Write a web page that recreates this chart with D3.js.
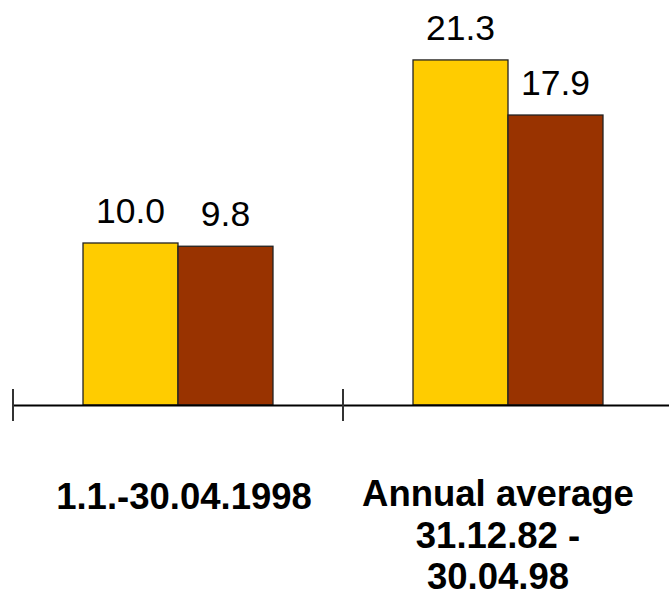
<!DOCTYPE html>
<html lang="en">
<head>
<meta charset="UTF-8">
<title>bars</title>
<script src="https://d3js.org/d3.v7.min.js"></script>
<style>
  body { margin: 0; background: #fff; }
  text { font-family: Arial, "Liberation Sans", sans-serif; }
</style>
</head>
<body>
<script>
// data
var categories = ["1.1.-30.04.1998", "Annual average"];
var categoryLines = [["1.1.-30.04.1998"], ["Annual average", "31.12.82 -", "30.04.98"]];
var seriesNames = ["A", "B"];
var seriesA = [10.0, 21.3];
var seriesB = [9.8, 17.9];
var colors = ["#FFCC00", "#993300"];

var width = 669, height = 597;
var baseY = 405;

var svg = d3.select("body").append("svg")
    .attr("width", width)
    .attr("height", height);

var x0 = d3.scaleBand().domain(categories).range([13, 673]).paddingInner(0).paddingOuter(0);
var x1 = d3.scaleBand().domain(seriesNames).range([0, x0.bandwidth()]).paddingInner(0).paddingOuter(0.737);
var y = d3.scaleLinear().domain([0, 25]).range([baseY, 0]);

var rows = [];
categories.forEach(function(c, i) {
  rows.push({cat: c, s: "A", v: seriesA[i], col: colors[0]});
  rows.push({cat: c, s: "B", v: seriesB[i], col: colors[1]});
});

svg.selectAll("rect.bar")
  .data(rows)
  .enter().append("rect")
    .attr("class", "bar")
    .attr("x", d => x0(d.cat) + x1(d.s))
    .attr("y", d => y(d.v))
    .attr("width", x1.bandwidth())
    .attr("height", d => baseY - y(d.v))
    .attr("fill", d => d.col)
    .attr("stroke", "#222")
    .attr("stroke-width", 1.3);

svg.selectAll("text.val")
  .data(rows)
  .enter().append("text")
    .attr("class", "val")
    .attr("x", d => x0(d.cat) + x1(d.s) + x1.bandwidth() / 2)
    .attr("y", d => y(d.v) - 20)
    .attr("text-anchor", "middle")
    .attr("font-size", 35.5)
    .attr("fill", "#000")
    .text(d => d.v.toFixed(1));

// axis line + ticks
var axis = d3.axisBottom(x0).tickSize(0).tickFormat("");
svg.append("g").attr("transform", "translate(0," + baseY + ")").call(axis)
  .call(g => g.select(".domain").attr("stroke", "#000").attr("stroke-width", 2));

var tickXs = [13].concat(categories.map(c => x0(c) + x0.bandwidth()));
svg.selectAll("line.tk")
  .data(tickXs)
  .enter().append("line")
    .attr("x1", d => d).attr("x2", d => d)
    .attr("y1", baseY - 16).attr("y2", baseY + 16)
    .attr("stroke", "#333").attr("stroke-width", 2);

// category labels
var labelShift = [6, -10];
var labelTop = [509, 506];
categoryLines.forEach(function(lines, i) {
  var t = svg.append("text")
    .attr("text-anchor", "middle")
    .attr("font-size", 36.5)
    .attr("font-weight", "bold")
    .attr("fill", "#000");
  lines.forEach(function(l, j) {
    t.append("tspan")
      .attr("x", x0(categories[i]) + x0.bandwidth() / 2 + labelShift[i])
      .attr("y", labelTop[i] + j * 41.5)
      .text(l);
  });
});
</script>
</body>
</html>
